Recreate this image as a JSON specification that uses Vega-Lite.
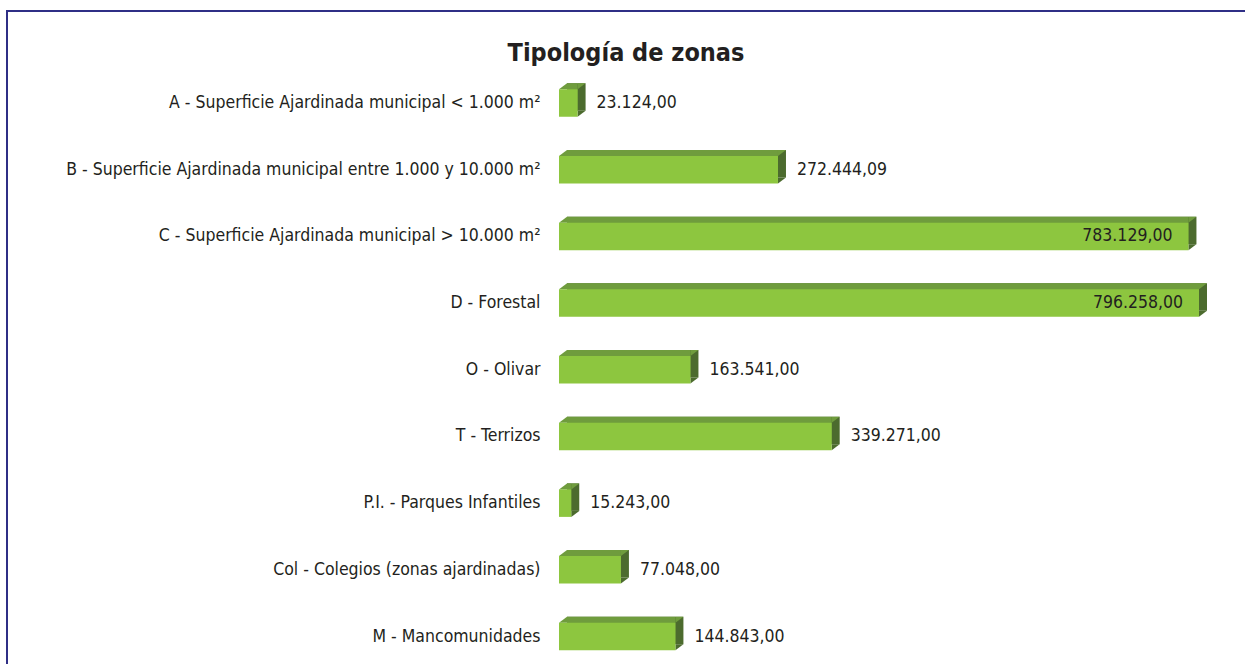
{
  "$schema": "https://vega.github.io/schema/vega-lite/v6.json",
  "width": 1238,
  "height": 653,
  "autosize": {"type": "none"},
  "padding": {"left": 7, "top": 11, "right": 0, "bottom": 0},
  "background": "white",
  "title": {
    "text": "Tipología de zonas",
    "font": "DejaVu Sans Condensed, sans-serif",
    "fontSize": 25,
    "fontWeight": "bold",
    "color": "#231f20",
    "anchor": "middle",
    "offset": -75,
    "baseline": "alphabetic"
  },
  "config": {
    "locale": {"number": {"decimal": ",", "thousands": ".", "grouping": [3], "currency": ["", " €"]}},
    "view": {"stroke": "#2f2f86", "strokeWidth": 2, "strokeDash": [1238, 1891, 653], "fill": null},
    "axis": {"grid": false, "domain": false, "ticks": false}
  },
  "data": {
    "values": [
      {"zona": "A - Superficie Ajardinada municipal < 1.000 m²", "valor": 23124.00},
      {"zona": "B - Superficie Ajardinada municipal entre 1.000 y 10.000 m²", "valor": 272444.09},
      {"zona": "C - Superficie Ajardinada municipal > 10.000 m²", "valor": 783129.00},
      {"zona": "D - Forestal", "valor": 796258.00},
      {"zona": "O - Olivar", "valor": 163541.00},
      {"zona": "T - Terrizos", "valor": 339271.00},
      {"zona": "P.I. - Parques Infantiles", "valor": 15243.00},
      {"zona": "Col - Colegios (zonas ajardinadas)", "valor": 77048.00},
      {"zona": "M - Mancomunidades", "valor": 144843.00}
    ]
  },
  "encoding": {
    "y": {
      "field": "zona",
      "type": "nominal",
      "sort": null,
      "scale": {"paddingInner": 0.5877, "paddingOuter": 0.6897, "align": 0.8507},
      "axis": {
        "title": null,
        "offset": -534,
        "labelPadding": 1,
        "tickSize": 0,
        "labelLimit": 0,
        "labelFont": "DejaVu Sans Condensed, sans-serif",
        "labelFontSize": 17.5,
        "labelColor": "#231f20"
      }
    },
    "x": {
      "field": "valor",
      "type": "quantitative",
      "scale": {"domain": [-686772, 853489], "nice": false},
      "axis": null
    }
  },
  "layer": [
    {
      "mark": {"type": "bar", "color": "#4c6b2e", "xOffset": 8, "x2Offset": 8, "yOffset": -6, "y2Offset": -6},
      "encoding": {"x2": {"datum": 0}}
    },
    {
      "mark": {"type": "point", "shape": "M-1,-0.75L1,-0.75L-1,0.75Z", "size": 64, "filled": true, "opacity": 1, "strokeWidth": 0, "color": "#4c6b2e", "xOffset": 4, "yOffset": 10.75}
    },
    {
      "mark": {"type": "bar", "color": "#6f9c3d", "xOffset": 0, "x2Offset": 8, "yOffset": -6, "y2Offset": -6},
      "encoding": {"x2": {"datum": 0}}
    },
    {
      "mark": {"type": "point", "shape": "M-1,0.75L-1,-0.75L1,-0.75Z", "size": 64, "filled": true, "opacity": 1, "strokeWidth": 0, "color": "#6f9c3d", "xOffset": 4, "yOffset": -16.75}
    },
    {
      "mark": {"type": "point", "shape": "M-1,0.75L1,-0.75L1,0.75Z", "size": 64, "filled": true, "opacity": 1, "strokeWidth": 0, "color": "#6f9c3d", "xOffset": 4, "yOffset": -16.75},
      "encoding": {"x": {"datum": 0, "type": "quantitative"}}
    },
    {
      "mark": {"type": "bar", "color": "#8dc63f"},
      "encoding": {"x2": {"datum": 0}}
    },
    {
      "transform": [{"filter": "datum.valor < 700000"}],
      "mark": {"type": "text", "align": "left", "dx": 19, "font": "DejaVu Sans Condensed, sans-serif", "fontSize": 17.5, "color": "#231f20"},
      "encoding": {"text": {"field": "valor", "type": "quantitative", "format": ",.2f"}}
    },
    {
      "transform": [{"filter": "datum.valor >= 700000"}],
      "mark": {"type": "text", "align": "right", "dx": -16, "font": "DejaVu Sans Condensed, sans-serif", "fontSize": 17.5, "color": "#231f20"},
      "encoding": {"text": {"field": "valor", "type": "quantitative", "format": ",.2f"}}
    }
  ]
}
